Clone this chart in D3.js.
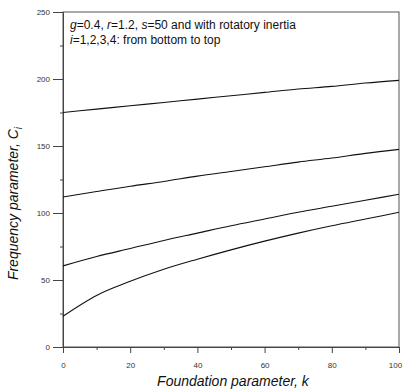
<!DOCTYPE html>
<html>
<head>
<meta charset="utf-8">
<script src="https://cdn.jsdelivr.net/npm/d3@7"></script>
<style>
  body { margin: 0; background: #fff; }
  svg { display: block; font-family: Arial, "Liberation Sans", sans-serif; }
</style>
</head>
<body>
<svg id="chart"></svg>
<script>
const width = 403, height = 391;
const margin = { top: 12, right: 4, bottom: 44, left: 63 };

// Foundation parameter k
const kValues = [0, 10, 20, 30, 40, 50, 60, 70, 80, 90, 100];
// Frequency parameter C_i, i = 1..4 (bottom to top)
const mode1 = [23, 38.5, 49, 58, 65.5, 72.5, 79, 85, 90.5, 95.5, 100.5];
const mode2 = [60.5, 67.5, 73.5, 79.5, 85, 90.5, 95.5, 100.5, 105, 109.5, 114];
const mode3 = [112, 116, 120, 123.5, 127.5, 131, 134.5, 138, 141, 144.5, 147.5];
const mode4 = [175, 177.5, 180, 182.5, 185, 187.5, 190, 192.5, 194.5, 197, 199];
const modes = [mode1, mode2, mode3, mode4];

const xTicks = [0, 20, 40, 60, 80, 100];
const xMinor = [10, 30, 50, 70, 90];
const yTicks = [0, 50, 100, 150, 200, 250];
const yMinor = [25, 75, 125, 175, 225];

const svg = d3.select('#chart')
  .attr('width', width)
  .attr('height', height);

const x = d3.scaleLinear().domain([0, 100]).range([margin.left, width - margin.right]);
const y = d3.scaleLinear().domain([0, 250]).range([height - margin.bottom, margin.top]);

// Frame (top and right)
svg.append('rect')
  .attr('x', x(0)).attr('y', y(250))
  .attr('width', x(100) - x(0)).attr('height', y(0) - y(250))
  .attr('fill', 'none')
  .attr('stroke', '#555')
  .attr('stroke-width', 1);

// X axis
const xAxis = svg.append('g')
  .attr('transform', `translate(0,${y(0)})`)
  .call(d3.axisBottom(x).tickValues(xTicks).tickSize(6).tickPadding(9).tickFormat(d3.format('d')));
svg.append('g')
  .attr('transform', `translate(0,${y(0)})`)
  .call(d3.axisBottom(x).tickValues(xMinor).tickSize(3).tickFormat(''))
  .select('.domain').remove();

// last label sits on the right edge, keep it inside the window
xAxis.selectAll('.tick text').filter(d => d === 100).attr('dx', -4);

// Y axis
const yAxis = svg.append('g')
  .attr('transform', `translate(${x(0)},0)`)
  .call(d3.axisLeft(y).tickValues(yTicks).tickSize(10).tickPadding(3).tickFormat(d3.format('d')));
svg.append('g')
  .attr('transform', `translate(${x(0)},0)`)
  .call(d3.axisLeft(y).tickValues(yMinor).tickSize(3).tickFormat(''))
  .select('.domain').remove();

svg.selectAll('.tick line').attr('stroke', '#444');
svg.selectAll('.domain').attr('stroke', '#444');
svg.selectAll('.tick text')
  .attr('font-size', 8)
  .attr('fill', '#333');

// Curves
const line = d3.line()
  .x((d, i) => x(kValues[i]))
  .y(d => y(d))
  .curve(d3.curveMonotoneX);

svg.selectAll('.mode')
  .data(modes)
  .enter()
  .append('path')
  .attr('class', 'mode')
  .attr('fill', 'none')
  .attr('stroke', '#111')
  .attr('stroke-width', 1.1)
  .attr('d', line);

// Annotation
const note = svg.append('text')
  .attr('x', 70).attr('y', 29)
  .attr('font-size', 12)
  .attr('fill', '#111');
note.append('tspan').attr('font-style', 'italic').text('g');
note.append('tspan').text('=0.4, ');
note.append('tspan').attr('font-style', 'italic').text('r');
note.append('tspan').text('=1.2, ');
note.append('tspan').attr('font-style', 'italic').text('s');
note.append('tspan').text('=50 and with rotatory inertia');

const note2 = svg.append('text')
  .attr('x', 70).attr('y', 44)
  .attr('font-size', 12)
  .attr('fill', '#111');
note2.append('tspan').attr('font-style', 'italic').text('i');
note2.append('tspan').text('=1,2,3,4: from bottom to top');

// Axis titles
svg.append('text')
  .attr('x', (x(0) + x(100)) / 2 + 2)
  .attr('y', 386)
  .attr('text-anchor', 'middle')
  .attr('font-size', 14)
  .attr('font-style', 'italic')
  .attr('fill', '#111')
  .text('Foundation parameter, k');

const yTitle = svg.append('text')
  .attr('transform', `translate(18,${(y(0) + y(250)) / 2 + 24}) rotate(-90)`)
  .attr('text-anchor', 'middle')
  .attr('font-size', 14)
  .attr('font-style', 'italic')
  .attr('fill', '#111');
yTitle.append('tspan').text('Frequency parameter, C');
yTitle.append('tspan').attr('font-size', 10).attr('dy', 4).text('i');
</script>
</body>
</html>
